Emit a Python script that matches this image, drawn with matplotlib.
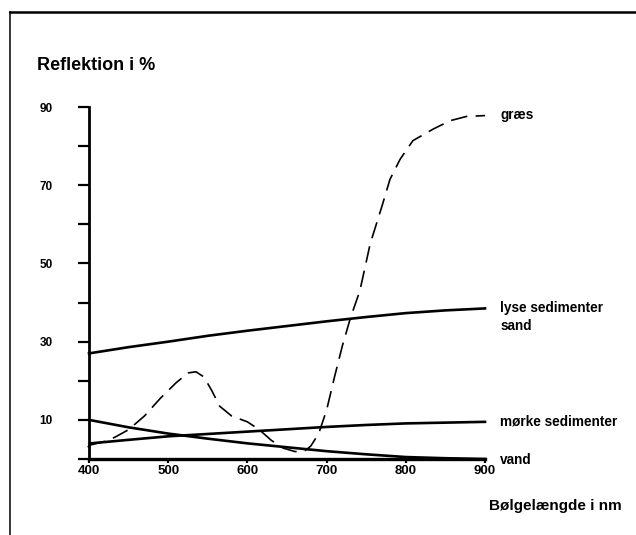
import matplotlib
matplotlib.use('Agg')
import matplotlib.pyplot as plt
from matplotlib.lines import Line2D

# spektrale reflektionskurver
wl_lyse = [400, 450, 500, 550, 600, 650, 700, 750, 800, 850, 900]
lyse = [27.0, 28.6, 30.0, 31.5, 32.8, 34.0, 35.2, 36.3, 37.3, 38.0, 38.5]

wl_moerke = [400, 402, 450, 500, 550, 600, 650, 700, 750, 800, 850, 900]
moerke = [3.2, 4.0, 4.9, 5.8, 6.4, 7.0, 7.6, 8.2, 8.7, 9.1, 9.3, 9.5]

wl_vand = [400, 450, 500, 550, 600, 650, 700, 750, 800, 850, 900]
vand = [10.0, 8.1, 6.5, 5.2, 4.0, 3.0, 2.0, 1.2, 0.5, 0.2, 0.0]

wl_graes = [400, 420, 433, 450, 470, 490, 510, 525, 535, 545, 555, 565,
            580, 600, 615, 630, 645, 660, 672, 680, 690, 700, 710, 720,
            730, 742, 755, 770, 780, 793, 809, 835, 856, 877, 900]
graes = [3.5, 4.5, 5.6, 7.5, 11.0, 15.5, 19.5, 22.0, 22.3, 21.0, 17.5, 13.5,
         11.0, 9.5, 7.5, 4.8, 2.8, 1.9, 2.0, 3.3, 6.5, 12.5, 21.0, 29.0,
         36.0, 43.0, 55.0, 64.7, 71.5, 76.7, 81.4, 84.4, 86.5, 87.6, 87.8]

xticks = [400, 500, 600, 700, 800, 900]
yticks = [0, 10, 20, 30, 40, 50, 60, 70, 80, 90]
ylabels = ['', '10', '', '30', '', '50', '', '70', '', '90']

plt.rcParams['font.family'] = ['Liberation Sans', 'DejaVu Sans']

fig = plt.figure(figsize=(6.36, 5.35), dpi=100)
ax = fig.add_axes([89 / 636, 76 / 535, 396 / 636, 352 / 535])

ax.plot(wl_lyse, lyse, color='black', lw=1.9, clip_on=False)
ax.plot(wl_moerke, moerke, color='black', lw=1.9, clip_on=False)
ax.plot(wl_vand, vand, color='black', lw=1.9, clip_on=False)
ax.plot(wl_graes, graes, color='black', lw=1.2, dashes=[10, 5], clip_on=False)

ax.set_xlim(400, 900)
ax.set_ylim(0, 90)
ax.spines['top'].set_visible(False)
ax.spines['right'].set_visible(False)
ax.spines['left'].set_linewidth(2.0)
ax.spines['bottom'].set_linewidth(2.4)

ax.set_xticks(xticks)
ax.set_yticks(yticks)
ax.set_yticklabels(ylabels)
ax.tick_params(axis='y', direction='out', length=8, width=1.6, pad=18,
               labelsize=8.5)
ax.tick_params(axis='x', direction='out', length=3, width=1.6, pad=1,
               labelsize=9.5)
for lab in ax.get_xticklabels() + ax.get_yticklabels():
    lab.set_fontweight('bold')

# kurvenavne til højre
lbl = dict(fontsize=9.8, fontweight='bold', va='center', ha='left',
           clip_on=False)
ax.text(919, 87.9, 'græs', **lbl)
ax.text(919, 38.6, 'lyse sedimenter', **lbl)
ax.text(919, 34.0, 'sand', **lbl)
ax.text(919, 9.7, 'mørke sedimenter', **lbl)
ax.text(919, -0.3, 'vand', **lbl)

fig.text(37 / 636, 1 - 66 / 535, 'Reflektion i %', fontsize=13,
         fontweight='bold', va='center', ha='left')
fig.text(489 / 636, 1 - 506 / 535, 'Bølgelængde i nm', fontsize=11,
         fontweight='bold', va='center', ha='left')

# ramme fra den scannede side
fig.add_artist(Line2D([10 / 636, 1], [1 - 12 / 535, 1 - 12 / 535],
                      transform=fig.transFigure, color='black', lw=1.8))
fig.add_artist(Line2D([10 / 636, 10 / 636], [1 - 12 / 535, 0],
                      transform=fig.transFigure, color='black', lw=1.1))

fig.savefig('out.png', dpi=100)
